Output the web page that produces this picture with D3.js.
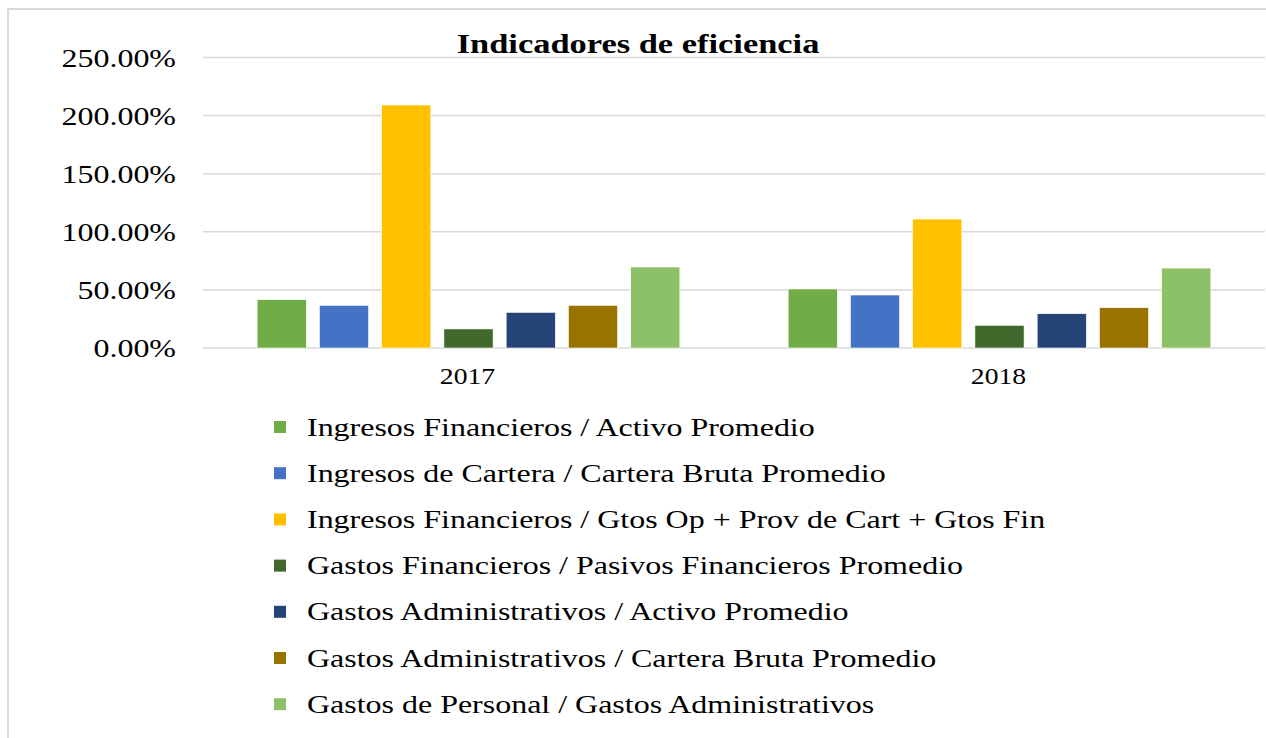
<!DOCTYPE html>
<html>
<head>
<meta charset="utf-8">
<script src="https://cdn.jsdelivr.net/npm/d3@7"></script>
<style>
  body { margin: 0; background: #fff; }
  text { font-family: "Liberation Serif", "Times New Roman", serif; fill: #000; }
</style>
</head>
<body>
<div id="chart"><svg></svg></div>
<script>
// data
var years = ["2017", "2018"];
var seriesNames = [
  "Ingresos Financieros / Activo Promedio",
  "Ingresos de Cartera / Cartera Bruta Promedio",
  "Ingresos Financieros / Gtos Op + Prov de Cart + Gtos Fin",
  "Gastos Financieros / Pasivos Financieros Promedio",
  "Gastos Administrativos / Activo Promedio",
  "Gastos Administrativos / Cartera Bruta Promedio",
  "Gastos de Personal / Gastos Administrativos"
];
var values2017 = [41.6, 36.7, 209.1, 16.4, 30.7, 36.7, 69.7];
var values2018 = [50.8, 45.6, 111.0, 19.5, 29.5, 34.7, 68.8];
var yTicks = [0, 50, 100, 150, 200, 250];
var colors = ["#70AD47", "#4472C4", "#FFC000", "#43682B", "#264478", "#997300", "#8CC168"];

var width = 1266, height = 738;
var stretch = 1.23; // text in the picture is wider than normal

var svg = d3.select("#chart svg").attr("width", width).attr("height", height);

// outer frame
svg.append("rect")
  .attr("x", 8).attr("y", 9)
  .attr("width", 1300).attr("height", 800)
  .attr("fill", "none")
  .attr("stroke", "#d9d9d9")
  .attr("stroke-width", 2);

var plot = { left: 203, right: 1265, top: 57.5, bottom: 348 };

var y = d3.scaleLinear().domain([0, 250]).range([plot.bottom, plot.top]);
var x0 = d3.scaleBand().domain(years).range([plot.left, plot.right]);
var x1 = d3.scaleBand().domain(d3.range(seriesNames.length))
  .range([0, x0.bandwidth()])
  .paddingInner(0.21)
  .paddingOuter(0.87);
var color = d3.scaleOrdinal().domain(d3.range(seriesNames.length)).range(colors);

function stretchedText(sel, xPos, yPos) {
  return sel.append("text")
    .attr("transform", "translate(" + xPos + "," + yPos + ") scale(" + stretch + ",1)");
}

// gridlines
svg.append("g").selectAll("line")
  .data(yTicks)
  .enter().append("line")
  .attr("x1", plot.left).attr("x2", plot.right)
  .attr("y1", function(d) { return y(d); })
  .attr("y2", function(d) { return y(d); })
  .attr("stroke", "#d9d9d9")
  .attr("stroke-width", 1.5);

// y tick labels
var yLab = svg.append("g");
yTicks.forEach(function(t) {
  stretchedText(yLab, 176, y(t) + 9)
    .attr("text-anchor", "end")
    .attr("font-size", "26px")
    .text(d3.format(".2f")(t) + "%");
});

// bars
var rows = years.map(function(yr, i) {
  return { year: yr, vals: i === 0 ? values2017 : values2018 };
});
var groups = svg.append("g").selectAll("g")
  .data(rows)
  .enter().append("g")
  .attr("transform", function(d) { return "translate(" + x0(d.year) + ",0)"; });

groups.selectAll("rect")
  .data(function(d) { return d.vals.map(function(v, i) { return { i: i, v: v }; }); })
  .enter().append("rect")
  .attr("x", function(d) { return x1(d.i); })
  .attr("width", x1.bandwidth())
  .attr("y", function(d) { return y(d.v); })
  .attr("height", function(d) { return y(0) - y(d.v); })
  .attr("fill", function(d) { return color(d.i); })
  .attr("stroke", "#fff")
  .attr("stroke-width", 0.6);

// x labels
years.forEach(function(yr) {
  stretchedText(svg, x0(yr) + x0.bandwidth() / 2 - 1, 384)
    .attr("text-anchor", "middle")
    .attr("font-size", "22.5px")
    .text(yr);
});

// title
stretchedText(svg, 638, 53)
  .attr("text-anchor", "middle")
  .attr("font-size", "28px")
  .attr("font-weight", "bold")
  .text("Indicadores de eficiencia");

// legend
var legend = svg.append("g");
seriesNames.forEach(function(name, i) {
  var cy = 427 + i * 46.2;
  legend.append("rect")
    .attr("x", 274).attr("y", cy - 6)
    .attr("width", 12).attr("height", 12)
    .attr("fill", color(i));
  stretchedText(legend, 307, cy + 8.5)
    .attr("font-size", "26px")
    .text(name);
});
</script>
</body>
</html>
